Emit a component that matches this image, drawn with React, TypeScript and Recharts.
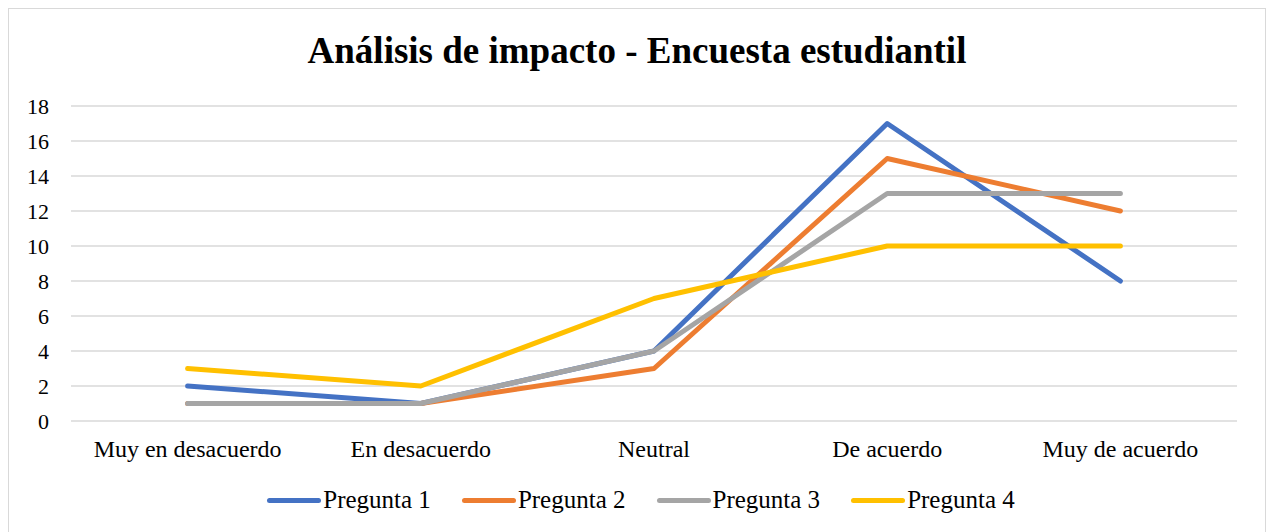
import { LineChart, Line, XAxis, YAxis, CartesianGrid, Legend } from "recharts";

const categories = ["Muy en desacuerdo", "En desacuerdo", "Neutral", "De acuerdo", "Muy de acuerdo"];
const pregunta1 = [2, 1, 4, 17, 8];
const pregunta2 = [1, 1, 3, 15, 12];
const pregunta3 = [1, 1, 4, 13, 13];
const pregunta4 = [3, 2, 7, 10, 10];
const yTicks = [0, 2, 4, 6, 8, 10, 12, 14, 16, 18];

const seriesNames = ["Pregunta 1", "Pregunta 2", "Pregunta 3", "Pregunta 4"];
const seriesColors = ["#4472C4", "#ED7D31", "#A5A5A5", "#FFC000"];

const data = categories.map((c, i) => ({
  name: c,
  p1: pregunta1[i],
  p2: pregunta2[i],
  p3: pregunta3[i],
  p4: pregunta4[i],
}));
const keys = ["p1", "p2", "p3", "p4"];

const font = '"Liberation Serif", "Times New Roman", serif';

function LegendContent() {
  return (
    <div style={{ height: 30, display: "flex", justifyContent: "center", alignItems: "center", paddingLeft: 36, fontFamily: font, fontSize: 25, color: "#000" }}>
      {seriesNames.map((n, i) => (
        <div key={n} style={{ display: "flex", alignItems: "center", marginRight: i < 3 ? 31 : 0 }}>
          <span style={{ display: "inline-block", width: 54, height: 5, borderRadius: 3, background: seriesColors[i], marginRight: 2 }} />
          <span>{n}</span>
        </div>
      ))}
    </div>
  );
}

export default function App() {
  return (
    <div
      style={{
        position: "fixed",
        left: 8,
        top: 8,
        width: 1258,
        height: 530,
        boxSizing: "border-box",
        border: "1px solid #D9D9D9",
        background: "#fff",
      }}
    >
      <div
        style={{
          position: "absolute",
          left: 0,
          right: 0,
          top: 20,
          textAlign: "center",
          fontFamily: font,
          fontWeight: "bold",
          fontSize: 37,
          color: "#000",
        }}
      >
        Análisis de impacto - Encuesta estudiantil
      </div>
      <LineChart
        width={1256}
        height={528}
        data={data}
        margin={{ top: 97, right: 28, left: 0, bottom: 22 }}
        style={{ fontFamily: font }}
      >
        <CartesianGrid vertical={false} stroke="#D9D9D9" strokeWidth={1.5} />
        <XAxis
          dataKey="name"
          axisLine={false}
          tickLine={false}
          height={64}
          padding={{ left: 116.6, right: 116.6 }}
          tick={{ fontSize: 24, fill: "#000" }}
          tickMargin={13}
          interval={0}
        />
        <YAxis
          domain={[0, 18]}
          ticks={yTicks}
          width={62}
          axisLine={false}
          tickLine={false}
          tickSize={0}
          tickMargin={22}
          tick={{ fontSize: 22, fill: "#000" }}
          interval={0}
        />
        <Legend verticalAlign="bottom" content={() => <LegendContent />} />
        {keys.map((k, i) => (
          <Line
            key={k}
            dataKey={k}
            name={seriesNames[i]}
            stroke={seriesColors[i]}
            strokeWidth={5}
            strokeLinecap="round"
            strokeLinejoin="round"
            dot={false}
            activeDot={false}
            isAnimationActive={false}
          />
        ))}
      </LineChart>
    </div>
  );
}
